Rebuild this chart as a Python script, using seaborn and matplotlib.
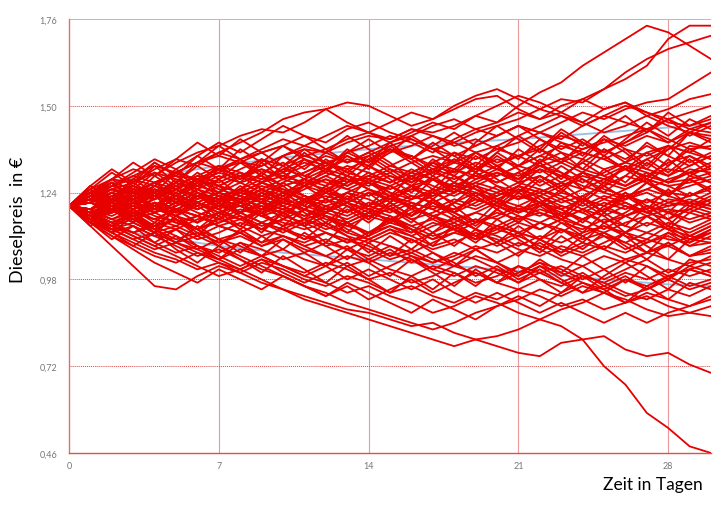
import matplotlib
matplotlib.use("Agg")
import matplotlib.pyplot as plt
import seaborn as sns
import pandas as pd

# ---------------- data ----------------
days = list(range(31))

p01 = [1.20,1.23,1.25,1.24,1.27,1.29,1.28,1.31,1.33,1.32,1.35, 1.37,1.36,1.39,1.41,1.40,1.43,1.42,1.44,1.47,1.45, 1.50,1.54,1.57,1.62,1.66,1.70,1.74,1.72,1.68,1.64]
p02 = [1.20,1.18,1.21,1.24,1.22,1.25,1.28,1.26,1.29,1.31,1.28, 1.30,1.33,1.35,1.32,1.36,1.38,1.41,1.39,1.42,1.44, 1.46,1.49,1.52,1.51,1.55,1.58,1.62,1.70,1.74,1.74]
p03 = [1.20,1.22,1.26,1.28,1.26,1.30,1.33,1.31,1.34,1.36,1.38, 1.35,1.37,1.40,1.42,1.39,1.41,1.44,1.46,1.43,1.45, 1.48,1.46,1.50,1.52,1.55,1.60,1.64,1.67,1.69,1.71]
p04 = [1.20,1.24,1.27,1.25,1.22,1.26,1.29,1.32,1.30,1.27,1.31, 1.34,1.32,1.36,1.38,1.41,1.39,1.36,1.40,1.43,1.41, 1.44,1.42,1.45,1.48,1.46,1.49,1.51,1.52,1.56,1.60]
p05 = [1.20,1.25,1.28,1.31,1.29,1.33,1.36,1.38,1.41,1.43,1.42, 1.45,1.49,1.51,1.50,1.47,1.44,1.46,1.49,1.52,1.53, 1.49,1.46,1.48,1.45,1.42,1.44,1.47,1.49,1.52,1.535]
p06 = [1.20,1.24,1.28,1.27,1.31,1.34,1.32,1.36,1.39,1.42,1.46, 1.48,1.49,1.45,1.42,1.40,1.43,1.41,1.38,1.40,1.37, 1.39,1.42,1.40,1.44,1.47,1.45,1.43,1.46,1.48,1.50]
p07 = [1.20,1.22,1.20,1.23,1.26,1.24,1.27,1.30,1.28,1.31,1.29, 1.32,1.35,1.33,1.36,1.39,1.42,1.45,1.43,1.47,1.50, 1.53,1.51,1.48,1.52,1.49,1.51,1.48,1.45,1.44,1.47]
p08 = [1.20,1.21,1.24,1.22,1.25,1.23,1.21,1.24,1.27,1.29,1.26, 1.28,1.31,1.29,1.27,1.30,1.33,1.35,1.33,1.36,1.38, 1.41,1.44,1.47,1.45,1.49,1.51,1.47,1.44,1.42,1.45]
p09 = [1.20,1.17,1.19,1.22,1.20,1.23,1.26,1.24,1.22,1.25,1.28, 1.26,1.29,1.32,1.30,1.27,1.30,1.33,1.36,1.34,1.37, 1.35,1.38,1.41,1.39,1.36,1.39,1.42,1.46,1.41,1.44]
p10 = [1.20,1.23,1.21,1.19,1.22,1.25,1.28,1.31,1.29,1.32,1.35, 1.38,1.36,1.33,1.35,1.38,1.40,1.37,1.35,1.38,1.41, 1.44,1.42,1.39,1.37,1.40,1.38,1.41,1.39,1.43,1.42]
p11 = [1.20,1.19,1.22,1.25,1.23,1.20,1.23,1.21,1.24,1.27,1.25, 1.22,1.25,1.28,1.26,1.29,1.27,1.30,1.28,1.31,1.34, 1.32,1.35,1.38,1.36,1.34,1.37,1.35,1.38,1.36,1.40]
p12 = [1.20,1.24,1.26,1.29,1.32,1.30,1.33,1.35,1.33,1.36,1.38, 1.41,1.39,1.43,1.45,1.42,1.40,1.37,1.39,1.36,1.33, 1.35,1.32,1.34,1.37,1.39,1.41,1.43,1.40,1.37,1.38]
p13 = [1.20,1.18,1.16,1.19,1.21,1.19,1.22,1.24,1.22,1.25,1.23, 1.26,1.28,1.25,1.23,1.26,1.29,1.31,1.29,1.26,1.29, 1.32,1.30,1.33,1.36,1.34,1.31,1.34,1.37,1.39,1.37]
p14 = [1.20,1.22,1.25,1.27,1.30,1.28,1.26,1.29,1.27,1.24,1.27, 1.30,1.33,1.31,1.34,1.37,1.35,1.32,1.30,1.33,1.31, 1.29,1.32,1.30,1.27,1.30,1.33,1.31,1.29,1.32,1.35]
p15 = [1.20,1.21,1.19,1.17,1.20,1.18,1.21,1.19,1.22,1.20,1.18, 1.21,1.23,1.21,1.24,1.22,1.25,1.28,1.26,1.29,1.27, 1.30,1.33,1.36,1.34,1.31,1.33,1.36,1.38,1.36,1.34]
p16 = [1.20,1.23,1.26,1.24,1.27,1.25,1.28,1.26,1.24,1.22,1.25, 1.23,1.21,1.24,1.27,1.25,1.28,1.30,1.33,1.31,1.29, 1.32,1.35,1.33,1.30,1.28,1.26,1.29,1.31,1.30,1.33]
p17 = [1.20,1.17,1.20,1.22,1.25,1.23,1.21,1.18,1.21,1.23,1.26, 1.28,1.26,1.29,1.27,1.24,1.22,1.25,1.23,1.26,1.24, 1.27,1.25,1.22,1.25,1.28,1.26,1.29,1.27,1.30,1.31]
p18 = [1.20,1.22,1.24,1.21,1.19,1.22,1.20,1.23,1.25,1.28,1.30, 1.33,1.31,1.34,1.32,1.29,1.26,1.28,1.31,1.29,1.32, 1.35,1.37,1.34,1.31,1.29,1.32,1.30,1.27,1.28,1.30]
p19 = [1.20,1.19,1.21,1.24,1.22,1.25,1.23,1.20,1.18,1.21,1.19, 1.22,1.20,1.18,1.21,1.19,1.22,1.24,1.27,1.25,1.23, 1.26,1.24,1.27,1.25,1.22,1.25,1.28,1.26,1.27,1.29]
p20 = [1.20,1.24,1.22,1.25,1.23,1.26,1.29,1.27,1.30,1.28,1.31, 1.29,1.27,1.25,1.28,1.26,1.23,1.21,1.24,1.27,1.25, 1.22,1.24,1.21,1.23,1.26,1.29,1.27,1.24,1.26,1.28]
p21 = [1.20,1.18,1.20,1.18,1.16,1.19,1.17,1.20,1.23,1.21,1.24, 1.26,1.24,1.27,1.29,1.32,1.30,1.33,1.31,1.28,1.30, 1.27,1.29,1.26,1.28,1.25,1.23,1.25,1.28,1.30,1.27]
p22 = [1.20,1.21,1.23,1.21,1.24,1.22,1.19,1.22,1.20,1.17,1.19, 1.17,1.20,1.22,1.20,1.23,1.21,1.19,1.16,1.18,1.21, 1.19,1.21,1.24,1.22,1.20,1.23,1.21,1.24,1.23,1.26]
p23 = [1.20,1.23,1.21,1.24,1.27,1.30,1.28,1.25,1.23,1.26,1.24, 1.27,1.25,1.22,1.20,1.23,1.26,1.24,1.21,1.24,1.22, 1.20,1.23,1.26,1.29,1.27,1.25,1.28,1.26,1.23,1.25]
p24 = [1.20,1.19,1.17,1.20,1.18,1.21,1.24,1.22,1.25,1.23,1.21, 1.19,1.22,1.20,1.17,1.19,1.16,1.18,1.21,1.19,1.22, 1.25,1.23,1.20,1.18,1.21,1.19,1.22,1.20,1.21,1.24]
p25 = [1.20,1.22,1.19,1.21,1.18,1.20,1.23,1.26,1.24,1.27,1.29, 1.27,1.30,1.28,1.25,1.22,1.25,1.23,1.26,1.24,1.21, 1.18,1.20,1.22,1.19,1.17,1.20,1.18,1.21,1.20,1.23]
p26 = [1.20,1.18,1.21,1.19,1.16,1.14,1.17,1.15,1.18,1.20,1.18, 1.21,1.24,1.22,1.25,1.23,1.20,1.23,1.25,1.22,1.20, 1.23,1.21,1.18,1.16,1.19,1.17,1.20,1.18,1.19,1.22]
p27 = [1.20,1.21,1.24,1.26,1.24,1.21,1.19,1.22,1.20,1.18,1.20, 1.23,1.21,1.24,1.22,1.19,1.17,1.20,1.18,1.15,1.17, 1.20,1.18,1.16,1.19,1.22,1.20,1.17,1.19,1.18,1.21]
p28 = [1.20,1.17,1.15,1.18,1.16,1.19,1.17,1.14,1.16,1.19,1.21, 1.19,1.17,1.15,1.18,1.20,1.23,1.21,1.18,1.21,1.24, 1.22,1.25,1.23,1.20,1.23,1.21,1.18,1.20,1.22,1.20]
p29 = [1.20,1.22,1.20,1.17,1.19,1.22,1.25,1.23,1.21,1.24,1.22, 1.25,1.28,1.26,1.29,1.27,1.30,1.28,1.25,1.23,1.26, 1.24,1.21,1.19,1.22,1.20,1.17,1.19,1.22,1.21,1.19]
p30 = [1.20,1.16,1.14,1.12,1.15,1.13,1.16,1.18,1.16,1.19,1.17, 1.15,1.18,1.16,1.19,1.22,1.20,1.17,1.15,1.18,1.16, 1.19,1.17,1.20,1.18,1.15,1.17,1.20,1.18,1.16,1.18]
p31 = [1.20,1.23,1.25,1.23,1.20,1.18,1.21,1.19,1.16,1.18,1.21, 1.19,1.16,1.14,1.17,1.15,1.18,1.21,1.19,1.22,1.20, 1.17,1.15,1.18,1.16,1.19,1.21,1.18,1.16,1.19,1.17]
p32 = [1.20,1.19,1.22,1.20,1.23,1.25,1.28,1.26,1.29,1.27,1.24, 1.22,1.19,1.21,1.18,1.16,1.19,1.17,1.14,1.16,1.13, 1.16,1.18,1.15,1.13,1.16,1.14,1.12,1.15,1.13,1.16]
p33 = [1.20,1.18,1.15,1.17,1.14,1.16,1.13,1.15,1.17,1.14,1.16, 1.19,1.17,1.14,1.12,1.15,1.13,1.10,1.12,1.15,1.18, 1.16,1.19,1.17,1.14,1.12,1.15,1.17,1.14,1.12,1.15]
p34 = [1.20,1.21,1.18,1.21,1.23,1.21,1.18,1.16,1.19,1.17,1.14, 1.16,1.13,1.15,1.18,1.16,1.14,1.11,1.13,1.16,1.14, 1.12,1.10,1.13,1.11,1.14,1.12,1.15,1.13,1.11,1.14]
p35 = [1.20,1.17,1.19,1.16,1.18,1.21,1.19,1.22,1.20,1.17,1.15, 1.13,1.15,1.12,1.10,1.13,1.11,1.14,1.16,1.13,1.11, 1.08,1.11,1.09,1.12,1.14,1.11,1.09,1.12,1.10,1.13]
p36 = [1.20,1.22,1.19,1.16,1.18,1.15,1.17,1.14,1.12,1.15,1.13, 1.10,1.12,1.09,1.11,1.14,1.12,1.15,1.13,1.10,1.12, 1.15,1.13,1.16,1.14,1.11,1.09,1.12,1.10,1.09,1.12]
p37 = [1.20,1.16,1.18,1.20,1.17,1.15,1.13,1.16,1.14,1.11,1.13, 1.16,1.14,1.11,1.09,1.12,1.10,1.07,1.09,1.12,1.10, 1.07,1.05,1.08,1.06,1.09,1.12,1.10,1.08,1.11,1.10]
p38 = [1.20,1.19,1.16,1.14,1.11,1.13,1.10,1.12,1.15,1.13,1.16, 1.14,1.17,1.15,1.12,1.14,1.11,1.08,1.10,1.07,1.09, 1.12,1.10,1.07,1.05,1.08,1.06,1.09,1.11,1.08,1.09]
p39 = [1.20,1.18,1.20,1.17,1.14,1.16,1.13,1.10,1.12,1.09,1.11, 1.08,1.10,1.07,1.05,1.08,1.06,1.09,1.12,1.10,1.13, 1.11,1.08,1.06,1.09,1.07,1.04,1.06,1.09,1.05,1.07]
p40 = [1.20,1.15,1.13,1.10,1.12,1.09,1.11,1.14,1.12,1.15,1.13, 1.11,1.08,1.10,1.07,1.04,1.06,1.03,1.05,1.08,1.06, 1.09,1.07,1.04,1.02,1.05,1.03,1.06,1.04,1.02,1.05]
p41 = [1.20,1.21,1.19,1.22,1.20,1.17,1.15,1.18,1.16,1.13,1.11, 1.09,1.12,1.10,1.08,1.05,1.07,1.04,1.02,1.05,1.03, 1.00,1.03,1.01,0.98,1.01,1.04,1.02,0.99,1.01,1.03]
p42 = [1.20,1.16,1.13,1.15,1.12,1.09,1.07,1.10,1.08,1.05,1.07, 1.04,1.02,1.05,1.03,1.06,1.04,1.01,0.99,1.02,1.00, 0.97,1.00,1.02,0.99,0.97,1.00,0.98,1.01,0.99,1.01]
p43 = [1.20,1.18,1.15,1.12,1.14,1.11,1.08,1.06,1.09,1.07,1.04, 1.06,1.09,1.07,1.10,1.08,1.05,1.03,1.06,1.04,1.01, 0.99,1.02,1.00,0.97,0.95,0.98,0.96,0.99,1.01,0.99]
p44 = [1.20,1.17,1.14,1.16,1.13,1.10,1.12,1.09,1.11,1.08,1.10, 1.07,1.05,1.02,1.04,1.01,0.99,1.02,1.00,0.97,0.99, 1.02,1.00,0.97,0.94,0.96,0.93,0.95,0.98,0.95,0.97]
p45 = [1.20,1.15,1.11,1.08,1.05,1.03,1.06,1.04,1.07,1.05,1.02, 1.00,1.03,1.01,0.98,1.00,0.97,0.99,1.02,1.00,0.97, 0.95,0.98,0.96,0.99,0.97,0.94,0.92,0.95,0.93,0.96]
p46 = [1.20,1.14,1.08,1.02,0.96,0.95,0.99,1.02,1.00,1.03,1.01, 0.98,0.96,0.99,0.97,0.94,0.96,0.93,0.91,0.94,0.92, 0.95,0.93,0.90,0.92,0.89,0.91,0.94,0.92,0.90,0.93]
p47 = [1.20,1.17,1.13,1.10,1.07,1.09,1.06,1.03,1.01,1.04,1.02, 0.99,0.97,0.94,0.96,0.93,0.91,0.88,0.90,0.93,0.91, 0.88,0.86,0.89,0.91,0.94,0.92,0.89,0.87,0.88,0.90]
p48 = [1.20,1.16,1.12,1.14,1.11,1.08,1.05,1.07,1.04,1.01,0.99, 0.96,0.94,0.91,0.89,0.87,0.85,0.83,0.85,0.88,0.90, 0.92,0.95,0.93,0.96,0.94,0.91,0.93,0.90,0.88,0.87]
p49 = [1.20,1.15,1.12,1.09,1.06,1.04,1.01,1.03,1.00,0.97,0.95, 0.92,0.90,0.88,0.86,0.84,0.82,0.80,0.78,0.80,0.78, 0.76,0.75,0.79,0.80,0.81,0.77,0.75,0.76,0.725,0.70]
p50 = [1.20,1.17,1.14,1.11,1.08,1.05,1.02,0.99,1.01,0.98,0.95, 0.93,0.91,0.89,0.88,0.86,0.84,0.85,0.82,0.80,0.81, 0.83,0.86,0.84,0.80,0.72,0.665,0.58,0.535,0.48,0.46]
p51 = [1.20,1.23,1.26,1.29,1.27,1.30,1.33,1.36,1.34,1.37,1.40, 1.38,1.41,1.44,1.42,1.45,1.48,1.46,1.50,1.53,1.55, 1.52,1.49,1.47,1.44,1.47,1.50,1.48,1.46,1.43,1.45]
p52 = [1.20,1.21,1.19,1.22,1.24,1.27,1.25,1.28,1.31,1.34,1.32, 1.35,1.33,1.30,1.28,1.31,1.29,1.26,1.24,1.27,1.30, 1.28,1.31,1.29,1.26,1.24,1.22,1.25,1.23,1.21,1.20]
p53 = [1.20,1.18,1.21,1.18,1.20,1.23,1.21,1.18,1.20,1.22,1.20, 1.17,1.19,1.17,1.20,1.18,1.21,1.19,1.22,1.20,1.23, 1.26,1.24,1.27,1.30,1.28,1.31,1.29,1.33,1.35,1.32]
p54 = [1.20,1.19,1.16,1.18,1.21,1.19,1.17,1.20,1.18,1.21,1.19, 1.16,1.18,1.21,1.19,1.17,1.14,1.16,1.13,1.11,1.14, 1.12,1.15,1.13,1.10,1.12,1.09,1.06,1.08,1.05,1.08]
p55 = [1.20,1.16,1.18,1.21,1.19,1.17,1.20,1.23,1.21,1.19,1.22, 1.20,1.18,1.21,1.24,1.22,1.20,1.17,1.19,1.22,1.20, 1.18,1.21,1.19,1.16,1.19,1.22,1.24,1.21,1.23,1.26]
q01 = [1.20,1.26,1.22,1.28,1.24,1.30,1.26,1.32,1.28,1.34,1.30, 1.36,1.31,1.37,1.33,1.39,1.34,1.30,1.36,1.32,1.38, 1.34,1.40,1.36,1.31,1.37,1.33,1.39,1.35,1.42,1.40]
q02 = [1.20,1.15,1.21,1.17,1.23,1.18,1.24,1.19,1.25,1.21,1.16, 1.22,1.17,1.12,1.18,1.23,1.19,1.25,1.20,1.15,1.21, 1.26,1.22,1.17,1.23,1.18,1.24,1.19,1.14,1.20,1.18]
q03 = [1.20,1.24,1.19,1.25,1.30,1.26,1.22,1.28,1.33,1.29,1.24, 1.20,1.26,1.31,1.27,1.23,1.29,1.25,1.31,1.36,1.32, 1.28,1.34,1.30,1.25,1.31,1.27,1.33,1.29,1.34,1.29]
q04 = [1.20,1.16,1.22,1.18,1.13,1.19,1.15,1.21,1.17,1.12,1.18, 1.14,1.20,1.15,1.11,1.17,1.13,1.08,1.14,1.10,1.16, 1.12,1.07,1.13,1.09,1.15,1.11,1.06,1.12,1.08,1.11]
q05 = [1.20,1.25,1.30,1.26,1.32,1.27,1.33,1.38,1.34,1.29,1.35, 1.31,1.36,1.41,1.37,1.33,1.28,1.34,1.30,1.36,1.32, 1.27,1.33,1.39,1.35,1.41,1.37,1.32,1.38,1.33,1.36]
q06 = [1.20,1.16,1.12,1.17,1.13,1.09,1.14,1.10,1.06,1.11,1.07, 1.12,1.08,1.04,1.09,1.05,1.10,1.06,1.02,1.07,1.03, 0.99,1.04,1.00,1.05,1.01,0.97,1.02,0.98,1.04,1.02]
q07 = [1.20,1.23,1.28,1.24,1.20,1.25,1.21,1.17,1.22,1.18,1.23, 1.28,1.24,1.29,1.25,1.21,1.26,1.22,1.27,1.23,1.19, 1.24,1.20,1.25,1.21,1.26,1.22,1.27,1.23,1.28,1.24]
q08 = [1.20,1.26,1.31,1.27,1.33,1.29,1.35,1.31,1.37,1.33,1.28, 1.34,1.30,1.36,1.40,1.36,1.41,1.37,1.33,1.39,1.44, 1.40,1.36,1.42,1.38,1.43,1.47,1.42,1.48,1.44,1.46]
q09 = [1.20,1.17,1.23,1.19,1.25,1.21,1.27,1.23,1.18,1.24,1.20, 1.16,1.22,1.18,1.24,1.19,1.15,1.21,1.17,1.13,1.19, 1.15,1.21,1.16,1.12,1.18,1.14,1.20,1.16,1.11,1.14]
q10 = [1.20,1.14,1.19,1.15,1.21,1.17,1.23,1.19,1.25,1.21,1.27, 1.23,1.18,1.24,1.20,1.26,1.22,1.28,1.24,1.30,1.26, 1.22,1.28,1.24,1.30,1.26,1.32,1.28,1.34,1.29,1.32]
q11 = [1.20,1.15,1.10,1.14,1.09,1.13,1.08,1.04,1.09,1.05,1.10, 1.06,1.02,1.07,1.03,0.99,1.04,1.00,0.96,1.01,0.97, 1.02,0.98,0.94,0.99,0.95,0.91,0.96,0.92,0.97,0.95]
q12 = [1.20,1.25,1.21,1.26,1.22,1.27,1.32,1.28,1.23,1.19,1.24, 1.20,1.25,1.21,1.16,1.21,1.17,1.22,1.18,1.24,1.20, 1.25,1.21,1.17,1.22,1.18,1.23,1.19,1.25,1.20,1.22]
q13 = [1.20,1.22,1.27,1.23,1.29,1.25,1.30,1.26,1.21,1.27,1.32, 1.28,1.34,1.30,1.35,1.31,1.27,1.33,1.29,1.35,1.31, 1.37,1.33,1.28,1.34,1.40,1.36,1.31,1.37,1.42,1.39]
q14 = [1.20,1.18,1.13,1.18,1.14,1.19,1.15,1.21,1.17,1.13,1.18, 1.14,1.09,1.15,1.11,1.16,1.12,1.17,1.13,1.09,1.14, 1.10,1.06,1.11,1.07,1.12,1.08,1.04,1.09,1.05,1.06]
q15 = [1.20,1.17,1.22,1.27,1.23,1.28,1.24,1.20,1.25,1.30,1.26, 1.21,1.26,1.22,1.28,1.24,1.19,1.24,1.29,1.25,1.21, 1.26,1.31,1.27,1.22,1.27,1.32,1.28,1.23,1.29,1.27]
q16 = [1.20,1.24,1.19,1.15,1.20,1.16,1.11,1.17,1.13,1.18,1.14, 1.19,1.24,1.20,1.16,1.21,1.17,1.22,1.18,1.14,1.19, 1.15,1.20,1.16,1.21,1.17,1.12,1.17,1.13,1.18,1.16]
q17 = [1.20,1.19,1.24,1.20,1.26,1.31,1.27,1.32,1.28,1.34,1.30, 1.26,1.31,1.27,1.32,1.38,1.34,1.39,1.35,1.31,1.36, 1.41,1.37,1.43,1.39,1.35,1.40,1.45,1.41,1.46,1.43]
q18 = [1.20,1.16,1.21,1.17,1.12,1.17,1.13,1.08,1.13,1.09,1.14, 1.10,1.15,1.11,1.06,1.11,1.07,1.12,1.08,1.13,1.09, 1.05,1.10,1.06,1.11,1.07,1.12,1.08,1.04,1.10,1.09]
q19 = [1.20,1.23,1.27,1.22,1.18,1.23,1.28,1.24,1.29,1.25,1.21, 1.26,1.22,1.27,1.32,1.28,1.24,1.29,1.25,1.30,1.35, 1.31,1.27,1.32,1.28,1.24,1.29,1.34,1.30,1.35,1.31]
q20 = [1.20,1.18,1.14,1.19,1.15,1.20,1.25,1.21,1.26,1.22,1.17, 1.22,1.18,1.23,1.19,1.15,1.20,1.16,1.21,1.26,1.22, 1.18,1.23,1.19,1.15,1.20,1.24,1.20,1.16,1.21,1.19]
q21 = [1.20,1.17,1.12,1.08,1.12,1.07,1.03,1.08,1.04,1.00,1.05, 1.01,0.97,1.02,0.98,0.94,0.99,0.95,1.00,0.96,1.01, 0.97,1.02,0.98,0.94,0.99,1.03,0.99,0.95,1.01,0.99]
q22 = [1.20,1.24,1.28,1.33,1.29,1.34,1.39,1.35,1.40,1.36,1.32, 1.37,1.33,1.29,1.34,1.30,1.26,1.31,1.27,1.32,1.28, 1.24,1.29,1.25,1.30,1.35,1.31,1.27,1.32,1.37,1.34]
q23 = [1.20,1.16,1.20,1.16,1.12,1.17,1.13,1.18,1.14,1.19,1.23, 1.19,1.15,1.20,1.16,1.21,1.26,1.22,1.18,1.23,1.19, 1.24,1.29,1.25,1.21,1.26,1.22,1.27,1.23,1.28,1.25]
q24 = [1.20,1.23,1.18,1.23,1.19,1.24,1.20,1.16,1.21,1.17,1.22, 1.18,1.14,1.19,1.15,1.20,1.16,1.12,1.17,1.13,1.09, 1.14,1.10,1.15,1.11,1.07,1.12,1.17,1.13,1.09,1.13]
q25 = [1.20,1.26,1.22,1.28,1.33,1.29,1.25,1.31,1.27,1.33,1.38, 1.34,1.30,1.35,1.31,1.37,1.33,1.29,1.34,1.30,1.36, 1.32,1.37,1.33,1.39,1.35,1.31,1.36,1.32,1.38,1.37]
r01 = [1.20,1.15,1.11,1.07,1.03,1.00,0.97,1.01,0.98,0.95,0.99, 0.96,0.93,0.97,0.94,0.91,0.88,0.92,0.89,0.86,0.90, 0.93,0.90,0.94,0.97,0.94,0.98,0.95,0.99,0.96,0.98]
r02 = [1.20,1.18,1.14,1.11,1.08,1.11,1.07,1.04,1.01,1.04,1.00, 0.97,1.00,1.03,0.99,1.02,1.05,1.01,1.04,1.07,1.03, 1.06,1.09,1.05,1.08,1.11,1.07,1.10,1.14,1.10,1.12]
r03 = [1.20,1.22,1.26,1.30,1.34,1.31,1.35,1.39,1.36,1.40,1.44, 1.41,1.37,1.33,1.36,1.32,1.35,1.31,1.34,1.30,1.27, 1.30,1.26,1.29,1.33,1.29,1.26,1.30,1.27,1.31,1.30]
r04 = [1.20,1.17,1.19,1.15,1.12,1.14,1.11,1.08,1.05,1.02,0.99, 0.96,0.93,0.96,0.92,0.95,0.98,0.94,0.97,1.00,0.97, 1.00,1.03,0.99,1.02,0.98,1.01,1.04,1.00,1.03,1.04]
r05 = [1.20,1.24,1.20,1.23,1.27,1.23,1.19,1.22,1.18,1.15,1.18, 1.14,1.17,1.13,1.10,1.13,1.09,1.12,1.15,1.11,1.14, 1.17,1.13,1.16,1.19,1.15,1.18,1.22,1.18,1.24,1.21]
r06 = [1.20,1.21,1.25,1.22,1.26,1.23,1.27,1.30,1.34,1.30,1.33, 1.29,1.32,1.36,1.33,1.37,1.34,1.38,1.42,1.38,1.41, 1.44,1.40,1.37,1.40,1.36,1.39,1.43,1.39,1.42,1.41]
r07 = [1.20,1.18,1.15,1.12,1.09,1.06,1.08,1.05,1.02,1.05,1.02, 0.99,1.02,0.98,1.01,0.98,0.95,0.98,0.94,0.91,0.94, 0.91,0.88,0.91,0.88,0.85,0.88,0.85,0.88,0.90,0.92]
r08 = [1.20,1.19,1.23,1.26,1.23,1.27,1.24,1.21,1.18,1.15,1.12, 1.15,1.12,1.09,1.12,1.16,1.13,1.10,1.14,1.11,1.08, 1.11,1.15,1.12,1.16,1.13,1.17,1.14,1.18,1.15,1.17]
r09 = [1.20,1.17,1.14,1.17,1.20,1.17,1.21,1.24,1.21,1.25,1.22, 1.26,1.29,1.26,1.30,1.27,1.31,1.28,1.24,1.28,1.31, 1.28,1.32,1.29,1.33,1.37,1.34,1.38,1.35,1.32,1.35]
r10 = [1.20,1.16,1.19,1.16,1.13,1.16,1.12,1.09,1.12,1.08,1.11, 1.08,1.05,1.08,1.04,1.07,1.03,1.06,1.03,0.99,1.02, 0.98,1.01,0.97,1.00,0.96,0.99,0.95,0.98,1.02,1.00]

paths = [p01,p02,p03,p04,p05,p06,p07,p08,p09,p10,p11,p12,p13,p14,p15,p16,p17,p18,
         p19,p20,p21,p22,p23,p24,p25,p26,p27,p28,p29,p30,p31,p32,p33,p34,p35,p36,
         p37,p38,p39,p40,p41,p42,p43,p44,p45,p46,p47,p48,p49,p50,p51,p52,p53,p54,p55,
         q01,q02,q03,q04,q05,q06,q07,q08,q09,q10,q11,q12,q13,q14,q15,q16,q17,q18,
         q19,q20,q21,q22,q23,q24,q25,
         r01,r02,r03,r04,r05,r06,r07,r08,r09,r10]

band_days  = [0, 1, 2, 3, 5, 7, 10, 14, 18, 21, 25, 28, 30]
band_upper = [1.20, 1.25, 1.27, 1.285, 1.30, 1.32, 1.345, 1.37, 1.39, 1.40, 1.42, 1.435, 1.445]
band_lower = [1.20, 1.15, 1.13, 1.12, 1.10, 1.08, 1.06, 1.04, 1.02, 1.005, 0.98, 0.965, 0.96]

x_ticks = [0, 7, 14, 21, 28]
y_ticks = [0.46, 0.72, 0.98, 1.24, 1.50, 1.76]
y_tick_labels = ["0,46", "0,72", "0,98", "1,24", "1,50", "1,76"]

# ---------------- tables ----------------
rows = []
for i, p in enumerate(paths):
    for d, v in zip(days, p):
        rows.append((i, d, v))
df = pd.DataFrame(rows, columns=["path", "day", "price"])
band = pd.DataFrame({"day": band_days * 2,
                     "price": band_upper + band_lower,
                     "which": ["upper"] * len(band_days) + ["lower"] * len(band_days)})

# ---------------- figure ----------------
sns.set_style("white")
plt.rcParams['font.family'] = ['Lato', 'DejaVu Sans']

fig = plt.figure(figsize=(7.2, 5.06), dpi=100)
ax = fig.add_axes([69/720, 1-454/506, (711-69)/720, (454-20)/506])

for xv in x_ticks[1:]:
    ax.axvline(xv, color="#e89a9a", lw=0.8, zorder=0)
for yv in y_ticks[1:-1]:
    ax.axhline(yv, color="#d84848", lw=0.7, ls=(0, (1, 1)), zorder=0)
ax.axhline(y_ticks[-1], color="#e8a0a0", lw=1.3, zorder=0)

sns.lineplot(data=band, x="day", y="price", units="which", estimator=None,
             color="#9cc0e4", lw=1.4, ax=ax, legend=False, zorder=1)
sns.lineplot(data=df, x="day", y="price", units="path", estimator=None,
             color="#e60000", lw=1.3, ax=ax, legend=False, zorder=2)

ax.set_xlim(0, 30)
ax.set_ylim(0.46, 1.76)
ax.set_xticks(x_ticks)
ax.set_yticks(y_ticks)
ax.set_yticklabels(y_tick_labels)
ax.set_xlabel("")
ax.set_ylabel("")
ax.tick_params(axis="both", labelsize=6.5, labelcolor="#777777", colors="#999999",
               length=5, width=0.8)
ax.tick_params(axis="x", length=2)

for s in ["top", "right"]:
    ax.spines[s].set_visible(False)
ax.spines["left"].set_color("#e07070")
ax.spines["left"].set_linewidth(1.0)
ax.spines["bottom"].set_color("#e05050")
ax.spines["bottom"].set_linewidth(1.0)

fig.text(18/720, 1-220/506, "Dieselpreis  in €", rotation=90, ha="center",
         va="center", fontsize=13, color="black")
fig.text(703/720, 1-485/506, "Zeit in Tagen", ha="right", va="center",
         fontsize=12.5, color="black")

fig.savefig("out.png", dpi=100)
